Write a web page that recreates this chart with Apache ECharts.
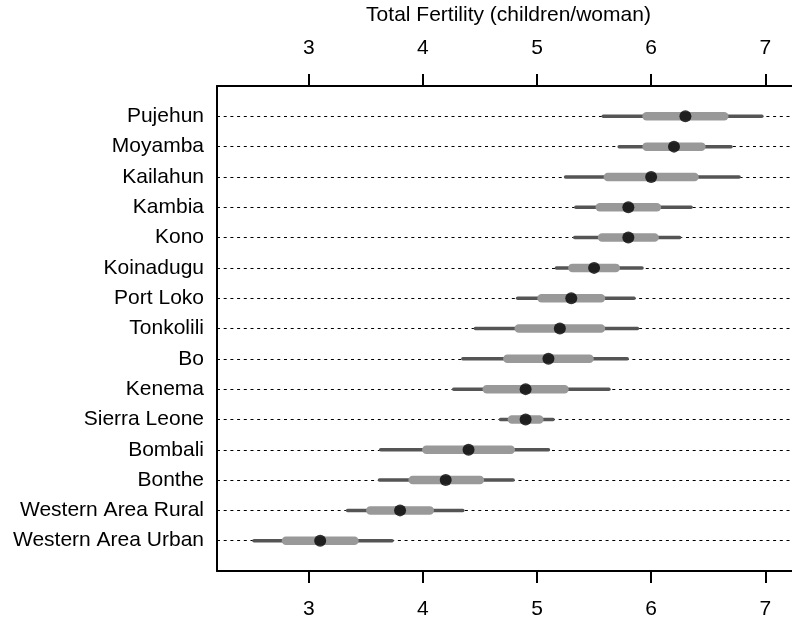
<!DOCTYPE html>
<html>
<head>
<meta charset="utf-8">
<script src="https://cdn.jsdelivr.net/npm/echarts@6/dist/echarts.min.js"></script>
<style>
html,body{margin:0;padding:0;background:#fff;}
#chart{width:792px;height:622px;}
</style>
</head>
<body>
<div id="chart"></div>
<script>
const regions = ['Pujehun','Moyamba','Kailahun','Kambia','Kono','Koinadugu','Port Loko','Tonkolili','Bo','Kenema','Sierra Leone','Bombali','Bonthe','Western Area Rural','Western Area Urban'];
const median    = [6.30,6.20,6.00,5.80,5.80,5.50,5.30,5.20,5.10,4.90,4.90,4.40,4.20,3.80,3.10];
const outerLow  = [5.58,5.72,5.25,5.34,5.33,5.17,4.83,4.46,4.35,4.27,4.68,3.63,3.62,3.34,2.52];
const outerHigh = [6.97,6.70,6.77,6.35,6.25,5.92,5.85,5.88,5.79,5.63,5.14,5.10,4.79,4.35,3.73];
const innerLow  = [5.96,5.96,5.62,5.55,5.57,5.31,5.04,4.84,4.74,4.56,4.78,4.03,3.91,3.54,2.80];
const innerHigh = [6.64,6.44,6.38,6.05,6.03,5.69,5.56,5.56,5.46,5.24,5.02,4.77,4.50,4.06,3.40];
const xTicks = [3,4,5,6,7];
const axisTitle = 'Total Fertility (children/woman)';

const FONT = "'Liberation Sans', Arial, Helvetica, sans-serif";
const chart = echarts.init(document.getElementById('chart'), null, {renderer:'canvas'});

function rangeItem(color, width){
  return function(params, api){
    const p1 = api.coord([api.value(0), api.value(2)]);
    const p2 = api.coord([api.value(1), api.value(2)]);
    return {type:'line', shape:{x1:p1[0], y1:p1[1], x2:p2[0], y2:p2[1]},
      style:{stroke:color, lineWidth:width, lineCap:'round'}};
  };
}

const outerData = regions.map((r,i)=>[outerLow[i], outerHigh[i], i+1]);
const innerData = regions.map((r,i)=>[innerLow[i], innerHigh[i], i+1]);
const dotData = regions.map((r,i)=>[median[i], i+1]);

const xBase = {
  type:'value', min:2.196, max:7.234,
  axisLine:{show:true, onZero:false, lineStyle:{color:'#000', width:2}},
  axisTick:{show:true, length:12, customValues:xTicks, lineStyle:{color:'#000', width:2}},
  axisLabel:{show:true, customValues:xTicks, margin:27, color:'#000', fontSize:21, fontFamily:FONT},
  splitLine:{show:false}
};

chart.setOption({
  animation:false,
  backgroundColor:'#fff',
  grid:{left:217, right:0, top:85, bottom:51, containLabel:false},
  xAxis:[
    Object.assign({}, xBase, {position:'top', name:axisTitle, nameLocation:'middle', nameGap:60,
      nameTextStyle:{color:'#000', fontSize:21, fontFamily:FONT, padding:[0,0,0,8]}}),
    Object.assign({}, xBase, {position:'bottom', axisLabel:Object.assign({}, xBase.axisLabel, {margin:28})})
  ],
  yAxis:{
    type:'value', min:0, max:16, interval:1, inverse:true,
    axisLine:{show:true, onZero:false, lineStyle:{color:'#000', width:2}},
    axisTick:{show:false},
    axisLabel:{margin:13, color:'#000', fontSize:21, fontFamily:FONT,
      formatter:function(v){ return (v>=1 && v<=regions.length) ? regions[v-1] : ''; }},
    splitLine:{show:true, lineStyle:{color:'#000', width:1, type:[3,3.7]}}
  },
  series:[
    {type:'custom', xAxisIndex:1, renderItem:rangeItem('#555555', 3.5), data:outerData, encode:{x:[0,1], y:2}, z:2},
    {type:'custom', xAxisIndex:1, renderItem:rangeItem('#999999', 8.5), data:innerData, encode:{x:[0,1], y:2}, z:3},
    {type:'scatter', xAxisIndex:1, data:dotData, symbol:'circle', symbolSize:12, itemStyle:{color:'#000'}, z:4}
  ]
});
</script>
</body>
</html>
